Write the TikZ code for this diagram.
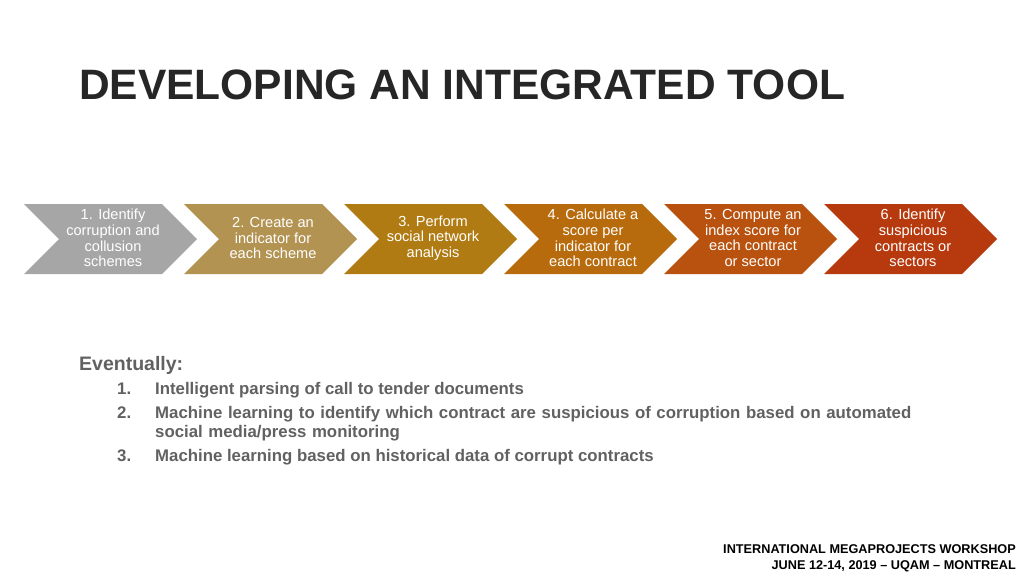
\documentclass[tikz,border=0pt]{standalone}
\usepackage{fontspec}
\setmainfont{Liberation Sans}
\begin{document}
\begin{tikzpicture}[x=1pt,y=-1pt,
  chev/.style={fill=#1,draw=none},
  ctext/.style={text=white,font=\fontsize{14.6}{15.6}\selectfont,align=center,inner sep=0},
  item/.style={anchor=base west,text=black!62,font=\fontsize{16.8}{19.5}\selectfont\bfseries,inner sep=0}]
\useasboundingbox (0,0) rectangle (1024,576);
\node[anchor=base west,inner sep=0,text=black!85,font=\fontsize{42.5}{50}\selectfont\bfseries] (title) at (79,99) {DEVELOPING AN INTEGRATED TOOL};
\definecolor{c1}{HTML}{A6A6A6}
\definecolor{c2}{HTML}{B39352}
\definecolor{c3}{HTML}{B07B12}
\definecolor{c4}{HTML}{B86B0C}
\definecolor{c5}{HTML}{B8520E}
\definecolor{c6}{HTML}{B63A0E}
\foreach \i/\c/\t in {0/c1/{1. Identify\\corruption and\\collusion\\schemes},
  1/c2/{2. Create an\\indicator for\\each scheme},
  2/c3/{3. Perform\\social network\\analysis},
  3/c4/{4. Calculate a\\score per\\indicator for\\each contract},
  4/c5/{5. Compute an\\index score for\\each contract\\or sector},
  5/c6/{6. Identify\\suspicious\\contracts or\\sectors}}{
  \pgfmathsetmacro{\x}{24+160*\i}
  \fill[\c] (\x,204) -- (\x+138,204) -- (\x+173,239) -- (\x+138,274) -- (\x,274) -- (\x+35,239) -- cycle;
  \node[ctext] (s\i) at (\x+89,238) {\t};
}
\node[anchor=base west,inner sep=0,text=black!62,font=\fontsize{19.5}{22}\selectfont\bfseries] (ev) at (79,370) {Eventually:};
\node[item] (n1) at (117,394) {1.};
\node[item] (t1) at (155,394) {Intelligent parsing of call to tender documents};
\node[item] (n2) at (117,418) {2.};
\node[item,align=left,text width=800] (t2) at (155,418) {Machine learning to identify which contract are suspicious of corruption based on automated\\social media/press monitoring};
\node[item] (n3) at (117,461) {3.};
\node[item] (t3) at (155,461) {Machine learning based on historical data of corrupt contracts};
\node[anchor=base east,inner sep=0,font=\fontsize{12.7}{14}\selectfont\bfseries] (f1) at (1016,553) {INTERNATIONAL MEGAPROJECTS WORKSHOP};
\node[anchor=base east,inner sep=0,font=\fontsize{12.7}{14}\selectfont\bfseries] (f2) at (1016,569) {JUNE 12-14, 2019 -- UQAM -- MONTREAL};
\end{tikzpicture}
\end{document}
